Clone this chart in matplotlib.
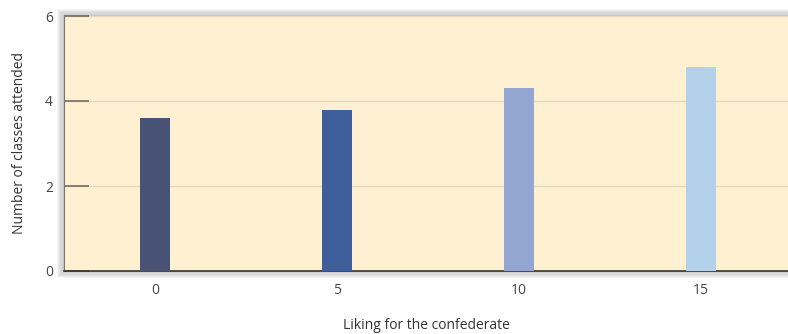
import numpy as np
import matplotlib.pyplot as plt
from matplotlib.patches import Rectangle

plt.rcParams['font.family'] = ['Open Sans', 'DejaVu Sans']

# data
liking = [0, 5, 10, 15]
classes = [3.6, 3.8, 4.3, 4.8]
bar_colors = ['#475274', '#3e5f9b', '#93a6d2', '#b3d1eb']
yticks = [0, 2, 4, 6]

fig = plt.figure(figsize=(7.88, 3.34), dpi=100)
ax = fig.add_axes([64/788, 63/334, 1 - 64/788, 255/334])
ax.set_zorder(2)

# soft drop shadow around the plot box
for i in range(6):
    d = (i + 1) * 1.2
    fig.patches.append(Rectangle((64/788 - d/788, 63/334 - d/334),
                                 1, 255/334 + 2*d/334,
                                 transform=fig.transFigure, facecolor='#555555',
                                 edgecolor='none', alpha=0.06, zorder=-1))

ax.set_facecolor('#fef0d1')
ax.bar(liking, classes, width=0.8, color=bar_colors, zorder=3)

ax.set_xlim(-2.5, 17.39)
ax.set_ylim(0, 6)
ax.set_xticks(liking)
ax.set_yticks(yticks)
ax.yaxis.grid(True, color='#e2d8c6', linewidth=1)
ax.set_axisbelow(True)

ax.tick_params(axis='y', direction='in', length=18, width=1.1, color='#6b6355',
               labelsize=10, labelcolor='#444444', pad=8)
ax.tick_params(axis='x', length=0, labelsize=10, labelcolor='#444444', pad=9)

for s in ['top', 'right']:
    ax.spines[s].set_visible(False)
ax.spines['left'].set_color('#777777')
ax.spines['bottom'].set_color('#333333')
ax.spines['bottom'].set_linewidth(1.2)

ax.set_xlabel('Liking for the confederate', fontsize=10, color='#333333', labelpad=14)
ax.set_ylabel('Number of classes attended', fontsize=10, color='#333333', labelpad=13)

plt.savefig('out.png', dpi=100)
